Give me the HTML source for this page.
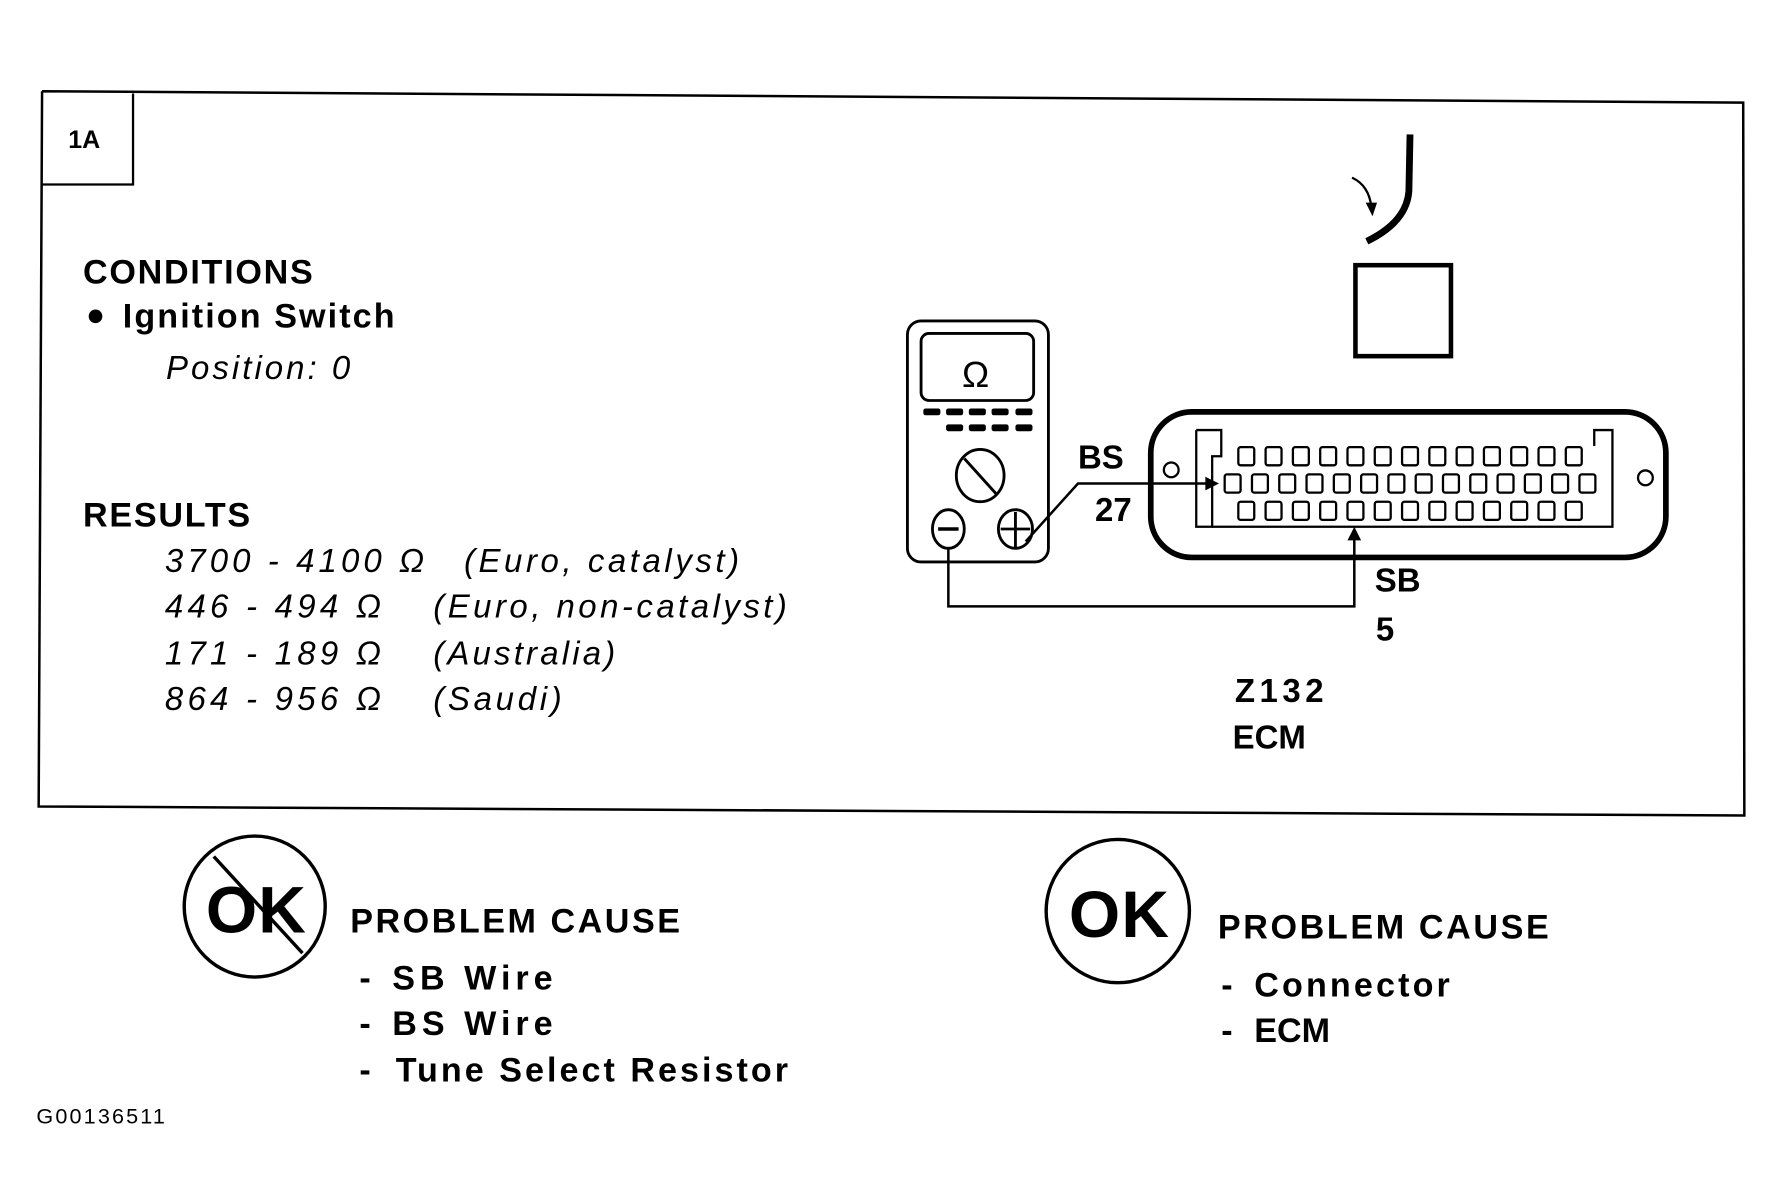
<!DOCTYPE html>
<html><head><meta charset="utf-8"><style>
html,body{margin:0;padding:0;background:#fff}
svg{display:block}
text{font-family:"Liberation Sans",Arial,sans-serif;fill:#000}
.b{font-weight:bold}
.i{font-style:italic}
</style></head><body>
<svg width="1783" height="1199" viewBox="0 0 1568 1054" xmlns="http://www.w3.org/2000/svg">
<g fill="none" stroke="#000">
<polyline points="37,80 1533,90 1534,717 34,709 37,80" stroke-width="2.2"/>
<polyline points="37,162 117,162 117,82" stroke-width="2"/>
<rect x="798" y="282" width="124" height="212" rx="12" stroke-width="2.5"/>
<rect x="810" y="293" width="99" height="59" rx="7" stroke-width="2.5"/>
<ellipse cx="862" cy="418" rx="21" ry="23" stroke-width="2.5"/>
<line x1="848" y1="403" x2="876" y2="434" stroke-width="2.5"/>
<ellipse cx="834" cy="465" rx="14" ry="17" stroke-width="2.5"/>
<line x1="825" y1="465" x2="843" y2="465" stroke-width="3"/>
<ellipse cx="893" cy="465" rx="15" ry="17" stroke-width="2.5"/>
<line x1="880" y1="465" x2="906" y2="465" stroke-width="2.5"/>
<line x1="893" y1="450" x2="893" y2="481" stroke-width="2.5"/>
<polyline points="902,476 948,425 1062,425" stroke-width="2.2"/>
<polyline points="834,482 834,533 1191,533 1191,470" stroke-width="2.2"/>
<rect x="1012" y="362" width="453" height="128" rx="36" stroke-width="5"/>
<circle cx="1030" cy="413" r="6.5" stroke-width="2"/>
<circle cx="1447" cy="420" r="6.5" stroke-width="2"/>
<polyline points="1052,378 1074,378 1074,401 1066,401 1066,463 1052,463 1052,378" stroke-width="2"/>
<polyline points="1066,463 1418,463 1418,378 1402,378 1402,392" stroke-width="2"/>
<rect x="1192" y="233" width="84" height="80" stroke-width="4"/>
<path d="M1240,118 L1239,168 Q1237,195 1202,212" stroke-width="6"/>
<path d="M1189,156 Q1204,163 1206,182" stroke-width="2"/>
<circle cx="224" cy="797" r="62" stroke-width="3"/>
<line x1="188" y1="753" x2="266" y2="838" stroke-width="3"/>
<circle cx="983" cy="801" r="63" stroke-width="3"/>
</g>
<g fill="#000">
<rect x="812" y="359" width="15" height="6" rx="2"/><rect x="832" y="359" width="15" height="6" rx="2"/><rect x="852" y="359" width="15" height="6" rx="2"/><rect x="872" y="359" width="15" height="6" rx="2"/><rect x="893" y="359" width="15" height="6" rx="2"/>
<rect x="832" y="373" width="15" height="6" rx="2"/><rect x="852" y="373" width="15" height="6" rx="2"/><rect x="872" y="373" width="15" height="6" rx="2"/><rect x="893" y="373" width="15" height="6" rx="2"/>
<polygon points="1072,425 1060,419 1060,431"/>
<polygon points="1191,463 1185,475 1197,475"/>
<polygon points="1207,190 1201,178 1211,178"/>
<circle cx="84" cy="278" r="6"/>
</g>
<g fill="none" stroke="#000" stroke-width="2">
<g id="r1">
<rect x="1089" y="393" width="14" height="16" rx="2"/><rect x="1113" y="393" width="14" height="16" rx="2"/><rect x="1137" y="393" width="14" height="16" rx="2"/><rect x="1161" y="393" width="14" height="16" rx="2"/><rect x="1185" y="393" width="14" height="16" rx="2"/><rect x="1209" y="393" width="14" height="16" rx="2"/><rect x="1233" y="393" width="14" height="16" rx="2"/><rect x="1257" y="393" width="14" height="16" rx="2"/><rect x="1281" y="393" width="14" height="16" rx="2"/><rect x="1305" y="393" width="14" height="16" rx="2"/><rect x="1329" y="393" width="14" height="16" rx="2"/><rect x="1353" y="393" width="14" height="16" rx="2"/><rect x="1377" y="393" width="14" height="16" rx="2"/>
</g>
<use href="#r1" y="48"/>
<rect x="1077" y="417" width="14" height="16" rx="2"/><rect x="1101" y="417" width="14" height="16" rx="2"/><rect x="1125" y="417" width="14" height="16" rx="2"/><rect x="1149" y="417" width="14" height="16" rx="2"/><rect x="1173" y="417" width="14" height="16" rx="2"/><rect x="1197" y="417" width="14" height="16" rx="2"/><rect x="1221" y="417" width="14" height="16" rx="2"/><rect x="1245" y="417" width="14" height="16" rx="2"/><rect x="1269" y="417" width="14" height="16" rx="2"/><rect x="1293" y="417" width="14" height="16" rx="2"/><rect x="1317" y="417" width="14" height="16" rx="2"/><rect x="1341" y="417" width="14" height="16" rx="2"/><rect x="1365" y="417" width="14" height="16" rx="2"/><rect x="1389" y="417" width="14" height="16" rx="2"/>
</g>
<text x="60" y="130" font-size="22" class="b">1A</text>
<text x="73" y="249" font-size="30" class="b" textLength="202">CONDITIONS</text>
<text x="108" y="288" font-size="30" class="b" textLength="239">Ignition Switch</text>
<text x="146" y="333" font-size="29" class="i" textLength="162">Position: 0</text>
<text x="73" y="463" font-size="30" class="b" textLength="147">RESULTS</text>
<g font-size="29" class="i">
<text x="145" y="503" textLength="228">3700 - 4100 Ω</text><text x="408" y="503" textLength="242">(Euro, catalyst)</text>
<text x="145" y="543" textLength="190">446 - 494 Ω</text><text x="381" y="543" textLength="311">(Euro, non-catalyst)</text>
<text x="145" y="584" textLength="190">171 - 189 Ω</text><text x="381" y="584" textLength="160">(Australia)</text>
<text x="145" y="624" textLength="190">864 - 956 Ω</text><text x="381" y="624" textLength="113">(Saudi)</text>
</g>
<text x="846" y="340" font-size="32">Ω</text>
<g font-size="29" class="b">
<text x="948" y="412">BS</text>
<text x="963" y="458">27</text>
<text x="1209" y="520">SB</text>
<text x="1210" y="563">5</text>
<text x="1086" y="617" textLength="78">Z132</text>
<text x="1084" y="658">ECM</text>
</g>
<text x="181" y="820" font-size="58" class="b" textLength="88">OK</text>
<text x="940" y="824" font-size="58" class="b" textLength="88">OK</text>
<g font-size="30" class="b">
<text x="308" y="820" textLength="290">PROBLEM CAUSE</text>
<text x="316" y="870">-</text><text x="345" y="870" textLength="141">SB  Wire</text>
<text x="316" y="910">-</text><text x="345" y="910" textLength="141">BS  Wire</text>
<text x="316" y="951">-</text><text x="348" y="951" textLength="345">Tune Select Resistor</text>
<text x="1071" y="825" textLength="291">PROBLEM CAUSE</text>
<text x="1074" y="876">-</text><text x="1103" y="876" textLength="172">Connector</text>
<text x="1074" y="916">-</text><text x="1103" y="916">ECM</text>
</g>
<text x="32" y="988" font-size="19" textLength="113">G00136511</text>
</svg>
</body></html>
